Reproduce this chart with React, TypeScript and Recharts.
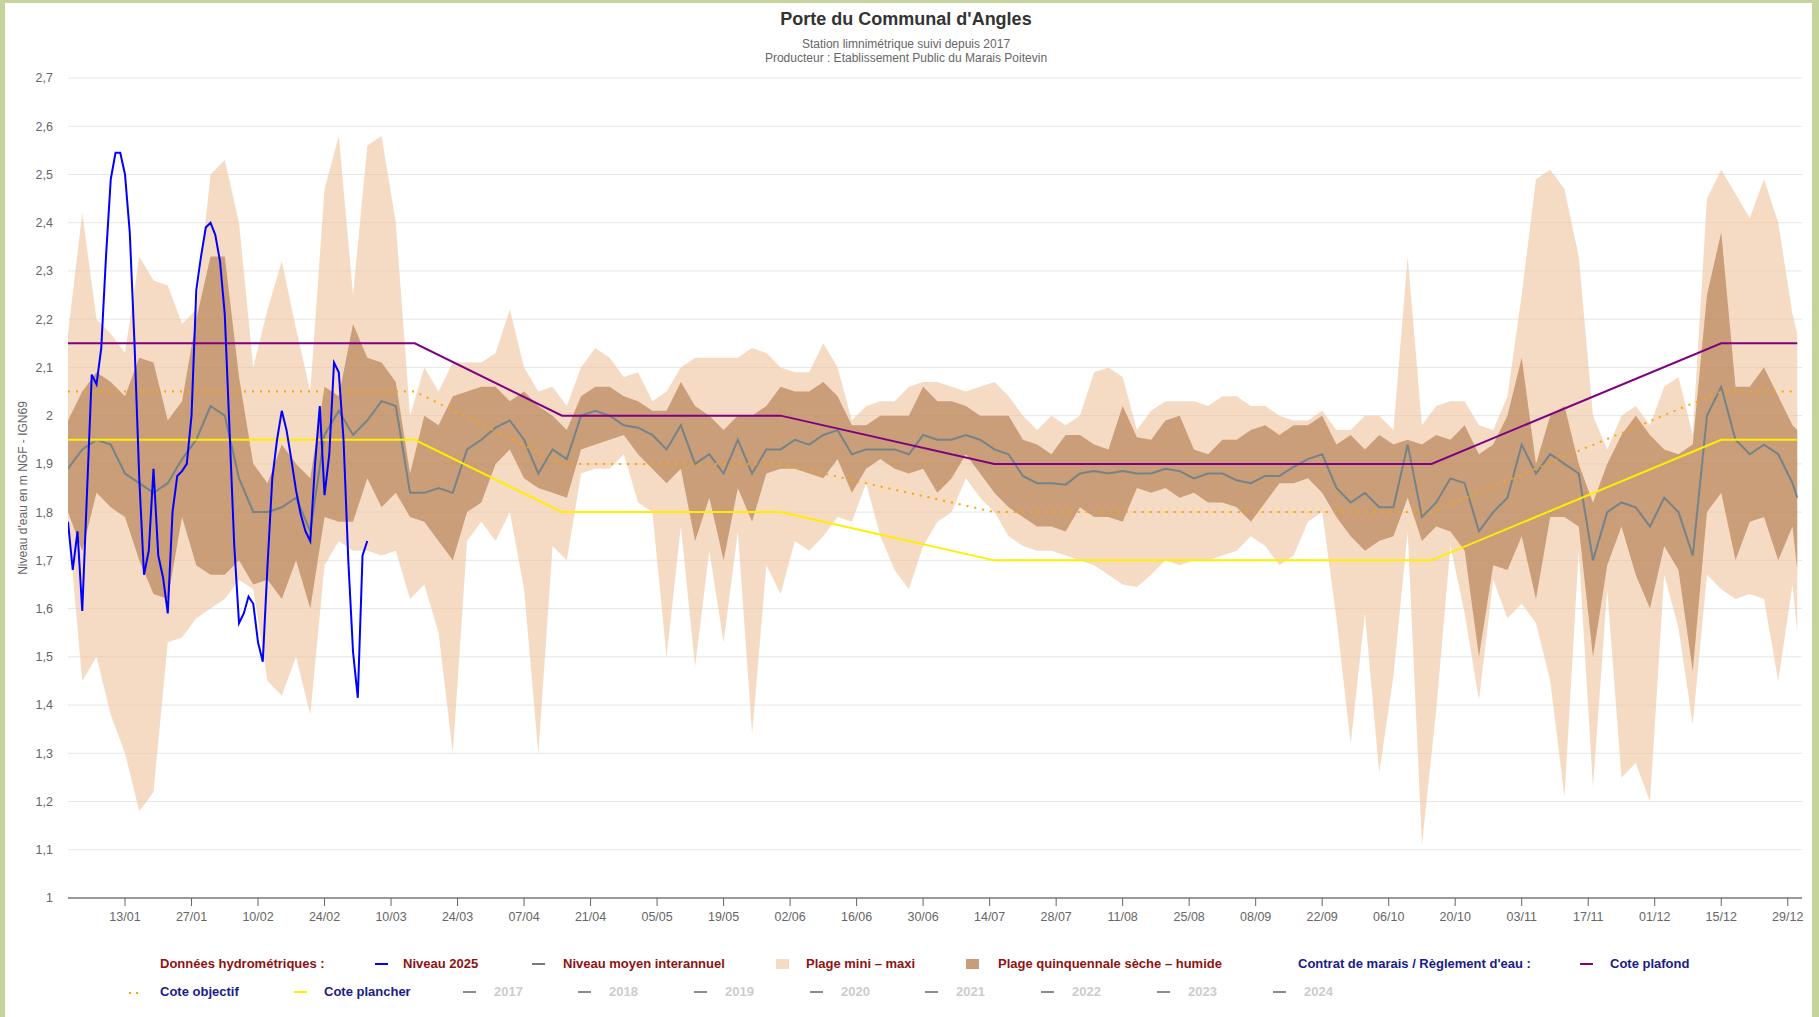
import React from "react"
import { ComposedChart, Area, Line, XAxis, YAxis, CartesianGrid } from "recharts"

// Sample days (0 = 1 January) for the interannual envelopes
const envDays = [
  0, 3, 6, 9, 12, 15, 18, 21, 24, 27, 30, 33, 36, 39, 42, 45, 48, 51, 54, 57, 60, 63, 66, 69, 72, 75, 78, 81, 84, 87,
  90, 93, 96, 99, 102, 105, 108, 111, 114, 117, 120, 123, 126, 129, 132, 135, 138, 141, 144, 147, 150, 153, 156, 159,
  162, 165, 168, 171, 174, 177, 180, 183, 186, 189, 192, 195, 198, 201, 204, 207, 210, 213, 216, 219, 222, 225, 228,
  231, 234, 237, 240, 243, 246, 249, 252, 255, 258, 261, 264, 267, 270, 273, 276, 279, 282, 285, 288, 291, 294, 297,
  300, 303, 306, 309, 312, 315, 318, 321, 324, 327, 330, 333, 336, 339, 342, 345, 348, 351, 354, 357, 360, 363, 364,
]

// Plage mini – maxi
const plageMax = [
  2.17, 2.42, 2.2, 2.17, 2.13, 2.33, 2.28, 2.27, 2.19, 2.22, 2.5, 2.53, 2.4, 2.1, 2.22, 2.32, 2.18, 2.05, 2.47, 2.58,
  2.25, 2.56, 2.58, 2.4, 2.0, 2.1, 2.05, 2.11, 2.11, 2.11, 2.13, 2.22, 2.1, 2.05, 2.06, 2.02, 2.1, 2.14, 2.12, 2.08,
  2.09, 2.03, 2.05, 2.1, 2.12, 2.12, 2.12, 2.12, 2.14, 2.13, 2.1, 2.09, 2.09, 2.15, 2.1, 1.99, 2.02, 2.03, 2.03, 2.06,
  2.07, 2.07, 2.06, 2.05, 2.06, 2.07, 2.04, 2.0, 1.97, 2.0, 1.98, 2.0, 2.09, 2.1, 2.08, 1.97, 2.01, 2.03, 2.03, 2.03,
  2.02, 2.04, 2.04, 2.02, 2.02, 2.0, 1.99, 1.99, 2.01, 1.97, 1.97, 2.0, 2.0, 1.97, 2.33, 1.98, 2.02, 2.03, 2.03, 1.98,
  1.97, 2.04, 2.25, 2.49, 2.51, 2.47, 2.33, 2.0, 1.93, 2.0, 2.02, 1.98, 2.06, 2.08, 1.96, 2.45, 2.51, 2.46, 2.41, 2.49,
  2.4, 2.21, 2.17,
]
const plageMin = [
  1.78, 1.45, 1.5, 1.38, 1.3, 1.18, 1.22, 1.53, 1.54, 1.58, 1.6, 1.62, 1.66, 1.64, 1.45, 1.42, 1.5, 1.38, 1.69, 1.74,
  1.72, 1.72, 1.71, 1.72, 1.62, 1.65, 1.55, 1.3, 1.74, 1.78, 1.74, 1.8, 1.64, 1.3, 1.73, 1.7, 1.88, 1.89, 1.89, 1.92,
  1.82, 1.8, 1.5, 1.77, 1.48, 1.72, 1.53, 1.76, 1.34, 1.69, 1.63, 1.74, 1.72, 1.75, 1.79, 1.78, 1.86, 1.75, 1.68, 1.64,
  1.73, 1.78, 1.8, 1.87, 1.83, 1.8, 1.75, 1.73, 1.72, 1.72, 1.71, 1.7, 1.69, 1.67, 1.65, 1.645, 1.67, 1.7, 1.69, 1.7,
  1.7, 1.71, 1.72, 1.75, 1.73, 1.69, 1.71, 1.78, 1.8, 1.58, 1.32, 1.59, 1.26, 1.46, 1.76, 1.11, 1.39, 1.73, 1.59, 1.41,
  1.66, 1.58, 1.61, 1.57, 1.45, 1.21, 1.72, 1.23, 1.64, 1.25, 1.28, 1.2, 1.67, 1.56, 1.36, 1.67, 1.64, 1.62, 1.63, 1.62,
  1.45, 1.65, 1.55,
]

// Plage quinquennale sèche – humide
const quinqHaut = [
  1.99, 2.05, 2.09, 2.07, 2.04, 2.12, 2.11, 1.99, 2.03, 2.2, 2.33, 2.33, 2.08, 1.9, 1.86, 1.94, 1.9, 1.87, 2.06, 2.04,
  2.19, 2.12, 2.11, 2.07, 1.88, 2.0, 1.98, 2.04, 2.05, 2.06, 2.06, 2.03, 2.05, 2.02, 2.0, 1.97, 2.04, 2.06, 2.06, 2.04,
  2.03, 2.01, 2.01, 2.07, 2.02, 2.0, 1.97, 2.0, 2.0, 2.02, 2.06, 2.05, 2.05, 2.07, 2.04, 1.98, 1.98, 2.0, 2.0, 2.0,
  2.06, 2.03, 2.03, 2.02, 2.0, 2.0, 2.0, 1.95, 1.94, 1.92, 1.96, 1.96, 1.94, 1.93, 2.02, 1.955, 1.95, 1.99, 2.0, 1.93,
  1.92, 1.95, 1.95, 1.97, 1.98, 1.96, 1.98, 1.98, 2.0, 1.94, 1.96, 1.93, 1.96, 1.94, 1.95, 1.94, 1.96, 1.95, 1.98, 1.92,
  1.94, 2.0, 2.12, 1.9, 2.0, 2.02, 1.9, 1.82, 1.9, 1.96, 2.0, 1.96, 1.93, 1.92, 1.94, 2.25, 2.38, 2.06, 2.06, 2.1,
  2.04, 1.98, 1.97,
]
const quinqBas = [
  1.8, 1.72, 1.84, 1.81, 1.79, 1.7, 1.63, 1.62, 1.79, 1.69, 1.67, 1.67, 1.7, 1.65, 1.66, 1.62, 1.7, 1.6, 1.79, 1.78,
  1.78, 1.87, 1.81, 1.84, 1.79, 1.78, 1.74, 1.7, 1.8, 1.82, 1.9, 1.93, 1.87, 1.85, 1.84, 1.83, 1.93, 1.94, 1.95, 1.96,
  1.92, 1.89, 1.86, 1.89, 1.74, 1.83, 1.7, 1.85, 1.78, 1.88, 1.89, 1.89, 1.88, 1.87, 1.91, 1.84, 1.89, 1.91, 1.89, 1.88,
  1.89, 1.84, 1.87, 1.92, 1.88, 1.84, 1.81, 1.79, 1.77, 1.77, 1.76, 1.81, 1.79, 1.79, 1.78, 1.85, 1.84, 1.85, 1.83, 1.84,
  1.82, 1.82, 1.81, 1.78, 1.82, 1.86, 1.86, 1.87, 1.84, 1.79, 1.75, 1.72, 1.74, 1.75, 1.83, 1.74, 1.77, 1.76, 1.72, 1.5,
  1.69, 1.68, 1.75, 1.62, 1.79, 1.79, 1.77, 1.5, 1.69, 1.77, 1.67, 1.6, 1.73, 1.68, 1.47, 1.8, 1.84, 1.7, 1.78, 1.79,
  1.7, 1.77, 1.68,
]

// Niveau moyen interannuel
const moyenne = [
  1.89, 1.93, 1.95, 1.94, 1.88, 1.86, 1.84, 1.86, 1.91, 1.95, 2.02, 2.0, 1.87, 1.8, 1.8, 1.81, 1.83, 1.76, 1.96, 2.01,
  1.96, 1.99, 2.03, 2.02, 1.84, 1.84, 1.85, 1.84, 1.93, 1.95, 1.975, 1.99, 1.95, 1.88, 1.93, 1.91, 2.0, 2.01, 2.0, 1.98,
  1.975, 1.96, 1.93, 1.98, 1.9, 1.92, 1.88, 1.95, 1.88, 1.93, 1.93, 1.95, 1.94, 1.96, 1.97, 1.92, 1.93, 1.93, 1.93, 1.92,
  1.96, 1.95, 1.95, 1.96, 1.95, 1.93, 1.92, 1.875, 1.86, 1.86, 1.857, 1.88, 1.885, 1.88, 1.885, 1.88, 1.88, 1.89, 1.885,
  1.87, 1.88, 1.88, 1.866, 1.86, 1.875, 1.875, 1.894, 1.91, 1.92, 1.85, 1.82, 1.84, 1.81, 1.81, 1.94, 1.79, 1.82, 1.87,
  1.86, 1.76, 1.8, 1.83, 1.94, 1.88, 1.92, 1.9, 1.88, 1.7, 1.8, 1.82, 1.81, 1.77, 1.83, 1.8, 1.71, 2.0, 2.06, 1.95, 1.92,
  1.94, 1.92, 1.86, 1.83,
]

// Niveau 2025, daily from 1 January
const jours2025 = [
  0, 1, 2, 3, 4, 5, 6, 7, 8, 9, 10, 11, 12, 13, 14, 15, 16, 17, 18, 19, 20, 21, 22, 23, 24, 25, 26, 27, 28, 29, 30, 31,
  32, 33, 34, 35, 36, 37, 38, 39, 40, 41, 42, 43, 44, 45, 46, 47, 48, 49, 50, 51, 52, 53, 54, 55, 56, 57, 58, 59, 60,
  61, 62, 63,
]
const niveau2025 = [
  1.78, 1.68, 1.76, 1.595, 1.84, 2.085, 2.065, 2.14, 2.33, 2.49, 2.545, 2.545, 2.5, 2.38, 2.15, 1.87, 1.67, 1.72, 1.89,
  1.71, 1.665, 1.59, 1.8, 1.875, 1.885, 1.9, 2.0, 2.26, 2.33, 2.39, 2.4, 2.375, 2.32, 2.21, 1.97, 1.73, 1.57, 1.59,
  1.625, 1.61, 1.53, 1.49, 1.69, 1.87, 1.95, 2.01, 1.97, 1.91, 1.845, 1.795, 1.76, 1.74, 1.9, 2.02, 1.835, 1.92, 2.11,
  2.09, 1.95, 1.7, 1.51, 1.415, 1.71, 1.74,
]

// Contrat de marais / Règlement d'eau
const regDays = [0, 73, 104, 150, 195, 287, 348, 364]
const cotePlafond = [2.15, 2.15, 2.0, 2.0, 1.9, 1.9, 2.15, 2.15]
const coteObjectif = [2.05, 2.05, 1.9, 1.9, 1.8, 1.8, 2.05, 2.05]
const cotePlancher = [1.95, 1.95, 1.8, 1.8, 1.7, 1.7, 1.95, 1.95]

const tickDays = [
  12, 26, 40, 54, 68, 82, 96, 110, 124, 138, 152, 166, 180, 194, 208, 222, 236, 250, 264, 278, 292, 306, 320, 334, 348,
  362,
]
const tickLabels = [
  "13/01", "27/01", "10/02", "24/02", "10/03", "24/03", "07/04", "21/04", "05/05", "19/05", "02/06", "16/06", "30/06",
  "14/07", "28/07", "11/08", "25/08", "08/09", "22/09", "06/10", "20/10", "03/11", "17/11", "01/12", "15/12", "29/12",
]
const yTicks = [1, 1.1, 1.2, 1.3, 1.4, 1.5, 1.6, 1.7, 1.8, 1.9, 2, 2.1, 2.2, 2.3, 2.4, 2.5, 2.6, 2.7]

const years = ["2017", "2018", "2019", "2020", "2021", "2022", "2023", "2024"]

const FONT = "'Liberation Sans', Arial, sans-serif"
const RED = "#8e1212"
const NAVY = "#1a1a8c"
const LIGHT = "#eec39b"
const DARK = "#a0622f"

const envRows = envDays.map((day, i) => ({
  day,
  plage: [plageMin[i], plageMax[i]],
  quinq: [quinqBas[i], quinqHaut[i]],
  moy: moyenne[i],
}))
const rows2025 = jours2025.map((day, i) => ({ day, niveau: niveau2025[i] }))
const regRows = regDays.map((day, i) => ({
  day,
  plafond: cotePlafond[i],
  objectif: coteObjectif[i],
  plancher: cotePlancher[i],
}))

const fmtY = (v: number) => (Math.round(v * 10) / 10).toString().replace(".", ",")
const fmtX = (d: number) => tickLabels[tickDays.indexOf(d)] ?? ""

// legend symbols
const Dash = ({ x, y, color }: { x: number; y: number; color: string }) => (
  <div style={{ position: "absolute", left: x, top: y - 1, width: 13, height: 2, background: color }} />
)
const Square = ({ x, y, color, opacity }: { x: number; y: number; color: string; opacity: number }) => (
  <div style={{ position: "absolute", left: x, top: y - 5, width: 13, height: 10, background: color, opacity }} />
)
const Txt = ({ x, y, color, children }: { x: number; y: number; color: string; children: React.ReactNode }) => (
  <div
    style={{
      position: "absolute",
      left: x,
      top: y - 8,
      fontFamily: FONT,
      fontWeight: 700,
      fontSize: 13,
      lineHeight: "16px",
      color,
      whiteSpace: "nowrap",
    }}
  >
    {children}
  </div>
)

function ChartLegend() {
  const r1 = 964
  const r2 = 992
  const yearX = [463, 578, 694, 810, 925, 1041, 1157, 1273]
  return (
    <>
      <Txt x={160} y={r1} color={RED}>Données hydrométriques :</Txt>
      <Dash x={375} y={r1} color="#0000ff" />
      <Txt x={403} y={r1} color={RED}>Niveau 2025</Txt>
      <Dash x={532} y={r1} color="#7a7a7a" />
      <Txt x={563} y={r1} color={RED}>Niveau moyen interannuel</Txt>
      <Square x={776} y={r1} color={LIGHT} opacity={0.6} />
      <Txt x={806} y={r1} color={RED}>Plage mini – maxi</Txt>
      <Square x={966} y={r1} color="#c99d78" opacity={1} />
      <Txt x={998} y={r1} color={RED}>Plage quinquennale sèche – humide</Txt>
      <Txt x={1298} y={r1} color={NAVY}>Contrat de marais / Règlement d'eau :</Txt>
      <Dash x={1580} y={r1} color="#800080" />
      <Txt x={1610} y={r1} color={NAVY}>Cote plafond</Txt>

      <div style={{ position: "absolute", left: 129, top: r2, width: 2, height: 2, background: "#ffa500" }} />
      <div style={{ position: "absolute", left: 136, top: r2, width: 2, height: 2, background: "#ffa500" }} />
      <Txt x={160} y={r2} color={NAVY}>Cote objectif</Txt>
      <Dash x={294} y={r2} color="#ffee00" />
      <Txt x={324} y={r2} color={NAVY}>Cote plancher</Txt>
      {years.map((yr, i) => (
        <React.Fragment key={yr}>
          <Dash x={yearX[i]} y={r2} color="#8c8c8c" />
          <Txt x={yearX[i] + 31} y={r2} color="#cccccc">
            {yr}
          </Txt>
        </React.Fragment>
      ))}
    </>
  )
}

export default function App() {
  return (
    <div
      style={{
        position: "absolute",
        left: 0,
        top: 0,
        width: 1819,
        height: 1017,
        overflow: "hidden",
        background: "#ffffff",
        fontFamily: FONT,
      }}
    >
      <ComposedChart width={1812} height={1017} margin={{ top: 78, right: 10, bottom: 79, left: 8 }}>
        <CartesianGrid vertical={false} stroke="#e6e6e6" />
        <XAxis
          type="number"
          dataKey="day"
          domain={[0, 365]}
          ticks={tickDays}
          interval={0}
          tickFormatter={fmtX}
          height={40}
          axisLine={{ stroke: "#999999", strokeWidth: 2 }}
          tickLine={{ stroke: "#666666" }}
          tickSize={8}
          tickMargin={6}
          tick={{ fill: "#666666", fontSize: 12.5, fontFamily: FONT }}
          allowDataOverflow
        />
        <YAxis
          type="number"
          domain={[1, 2.7]}
          ticks={yTicks}
          interval={0}
          width={60}
          axisLine={false}
          tickLine={false}
          tickSize={0}
          tickMargin={15}
          tickFormatter={fmtY}
          tick={{ fill: "#666666", fontSize: 12.5, fontFamily: FONT }}
          allowDataOverflow
        />
        <Area
          data={envRows}
          dataKey="plage"
          type="linear"
          stroke="none"
          fill={LIGHT}
          fillOpacity={0.6}
          isAnimationActive={false}
          activeDot={false}
        />
        <Area
          data={envRows}
          dataKey="quinq"
          type="linear"
          stroke="none"
          fill={DARK}
          fillOpacity={0.5}
          isAnimationActive={false}
          activeDot={false}
        />
        <Line
          data={envRows}
          dataKey="moy"
          type="linear"
          stroke="#6b7f89"
          strokeOpacity={0.9}
          strokeWidth={2}
          dot={false}
          activeDot={false}
          isAnimationActive={false}
        />
        <Line
          data={regRows}
          dataKey="objectif"
          type="linear"
          stroke="#ffa500"
          strokeWidth={2}
          strokeDasharray="2 6"
          dot={false}
          activeDot={false}
          isAnimationActive={false}
        />
        <Line
          data={regRows}
          dataKey="plancher"
          type="linear"
          stroke="#ffee00"
          strokeWidth={2}
          dot={false}
          activeDot={false}
          isAnimationActive={false}
        />
        <Line
          data={regRows}
          dataKey="plafond"
          type="linear"
          stroke="#800080"
          strokeWidth={2}
          dot={false}
          activeDot={false}
          isAnimationActive={false}
        />
        <Line
          data={rows2025}
          dataKey="niveau"
          type="linear"
          stroke="#0000ff"
          strokeWidth={2}
          dot={false}
          activeDot={false}
          isAnimationActive={false}
        />
      </ComposedChart>

      {/* titles */}
      <div
        style={{
          position: "absolute",
          left: 0,
          width: 1812,
          top: 9,
          textAlign: "center",
          fontSize: 18,
          fontWeight: 700,
          color: "#333333",
        }}
      >
        Porte du Communal d'Angles
      </div>
      <div
        style={{
          position: "absolute",
          left: 0,
          width: 1812,
          top: 37,
          textAlign: "center",
          fontSize: 12,
          color: "#666666",
          lineHeight: "14px",
        }}
      >
        Station limnimétrique suivi depuis 2017
        <br />
        Producteur : Etablissement Public du Marais Poitevin
      </div>
      <div
        style={{
          position: "absolute",
          left: 23 - 150,
          top: 488 - 7,
          width: 300,
          height: 14,
          lineHeight: "14px",
          textAlign: "center",
          fontSize: 12,
          color: "#666666",
          transform: "rotate(-90deg)",
        }}
      >
        Niveau d'eau en m NGF - IGN69
      </div>

      <ChartLegend />

      {/* frame */}
      <div style={{ position: "absolute", left: 0, top: 0, width: 1819, height: 3, background: "#c5d49c" }} />
      <div style={{ position: "absolute", left: 0, top: 0, width: 5, height: 1017, background: "#c5d49c" }} />
      <div style={{ position: "absolute", left: 1812, top: 0, width: 7, height: 1017, background: "#c5d49c" }} />
    </div>
  )
}
